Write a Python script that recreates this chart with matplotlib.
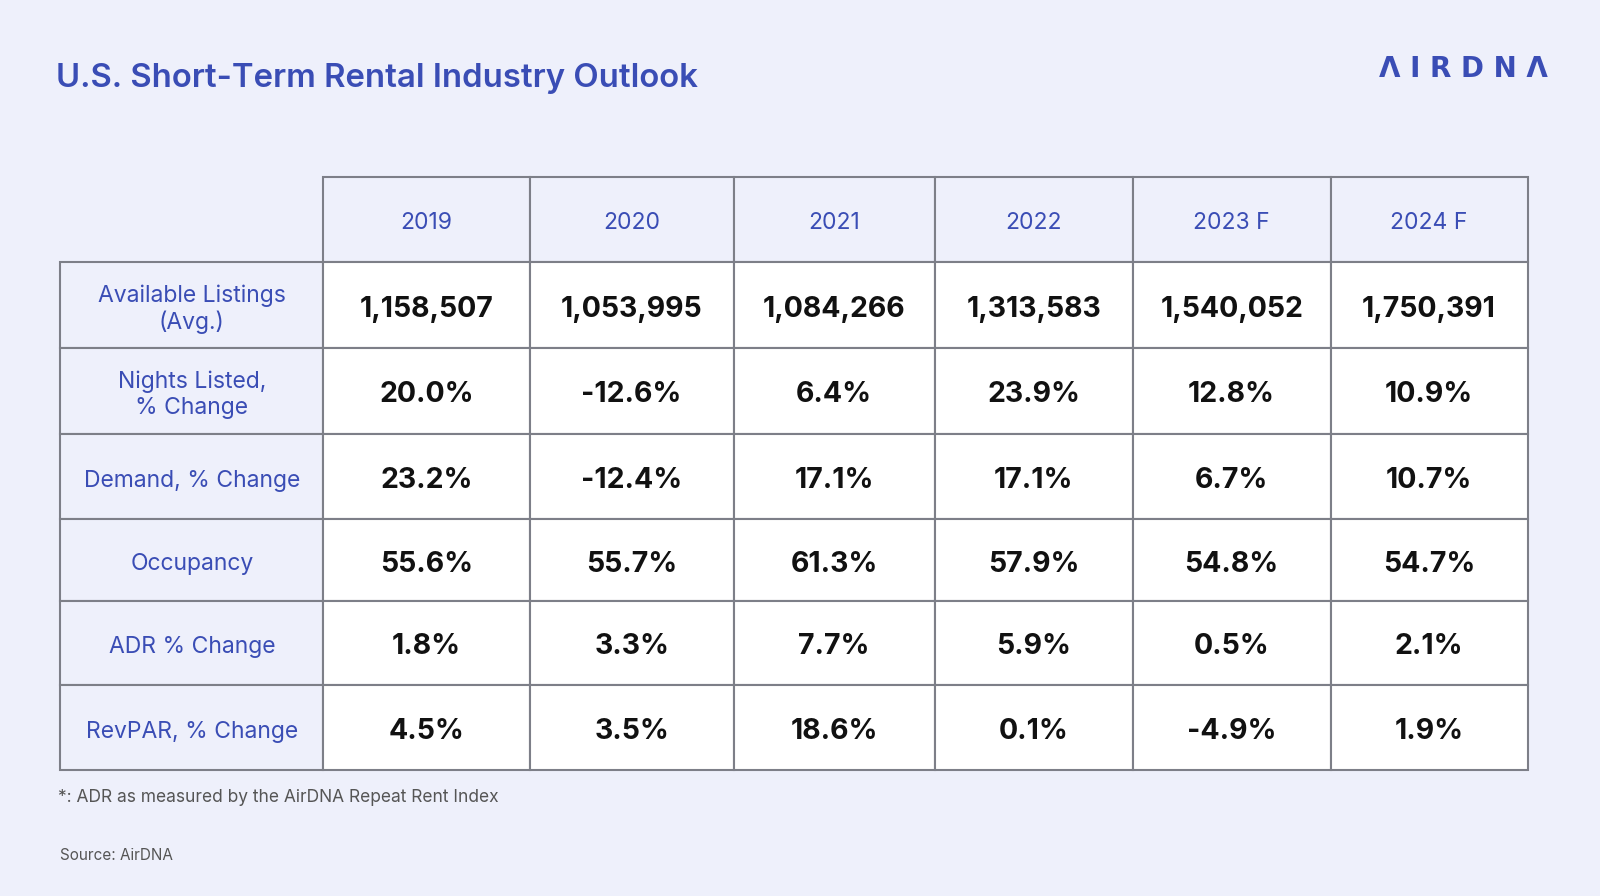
import matplotlib.pyplot as plt
from matplotlib.patches import Rectangle

plt.rcParams['font.family'] = ['Inter', 'DejaVu Sans']

years = ['2019', '2020', '2021', '2022', '2023 F', '2024 F']
metrics = ['Available Listings\n(Avg.)', 'Nights Listed,\n% Change', 'Demand, % Change',
           'Occupancy', 'ADR % Change', 'RevPAR, % Change']
listings = ['1,158,507', '1,053,995', '1,084,266', '1,313,583', '1,540,052', '1,750,391']
nights = ['20.0%', '-12.6%', '6.4%', '23.9%', '12.8%', '10.9%']
demand = ['23.2%', '-12.4%', '17.1%', '17.1%', '6.7%', '10.7%']
occupancy = ['55.6%', '55.7%', '61.3%', '57.9%', '54.8%', '54.7%']
adr = ['1.8%', '3.3%', '7.7%', '5.9%', '0.5%', '2.1%']
revpar = ['4.5%', '3.5%', '18.6%', '0.1%', '-4.9%', '1.9%']
rows = [listings, nights, demand, occupancy, adr, revpar]

bg = '#EEF0FB'
blue = '#3A4DB5'
line = '#7d7f88'
k = 1600 / 1568  # layout was measured on a 1568-wide view
col_x = [v * k for v in [59, 317, 519, 719, 916, 1110, 1304, 1497]]
row_y = [v * k for v in [173, 257, 341, 425, 509, 589, 671, 755]]
dy = 4  # nudge text down a little

fig = plt.figure(figsize=(16, 8.96), dpi=100, facecolor=bg)
ax = fig.add_axes([0, 0, 1, 1])
ax.set_xlim(0, 1600)
ax.set_ylim(896, 0)
ax.axis('off')

def cell(c, r, face):
    x0, x1 = col_x[c], col_x[c + 1]
    y0, y1 = row_y[r], row_y[r + 1]
    ax.add_patch(Rectangle((x0, y0), x1 - x0, y1 - y0, facecolor=face,
                           edgecolor=line, lw=1.5))
    return (x0 + x1) / 2, (y0 + y1) / 2 + dy

for j, yr in enumerate(years):
    cx, cy = cell(j + 1, 0, bg)
    ax.text(cx, cy, yr, ha='center', va='center', fontsize=16.5, color=blue)

for i, m in enumerate(metrics):
    cx, cy = cell(0, i + 1, bg)
    ax.text(cx, cy, m, ha='center', va='center', fontsize=16.5, color=blue, linespacing=1.2)
    for j, v in enumerate(rows[i]):
        cx, cy = cell(j + 1, i + 1, 'white')
        ax.text(cx, cy, v, ha='center', va='center', fontsize=20.5, fontweight='bold',
                color='#111111')

ax.text(55 * k, 77 * k, 'U.S. Short-Term Rental Industry Outlook', ha='left', va='center',
        fontsize=23.7, fontweight='semibold', color=blue)
ax.text(1517 * k, 68 * k, 'Λ I R D Ν Λ', ha='right', va='center', fontsize=20,
        fontweight='semibold', color=blue, family=['DejaVu Sans'])
ax.text(57 * k, 782 * k, '*: ADR as measured by the AirDNA Repeat Rent Index', ha='left',
        va='center', fontsize=12.5, color='#555555')
ax.text(59 * k, 838 * k, 'Source: AirDNA', ha='left', va='center', fontsize=11, color='#555555')

fig.savefig('out.png', dpi=100, facecolor=bg)
